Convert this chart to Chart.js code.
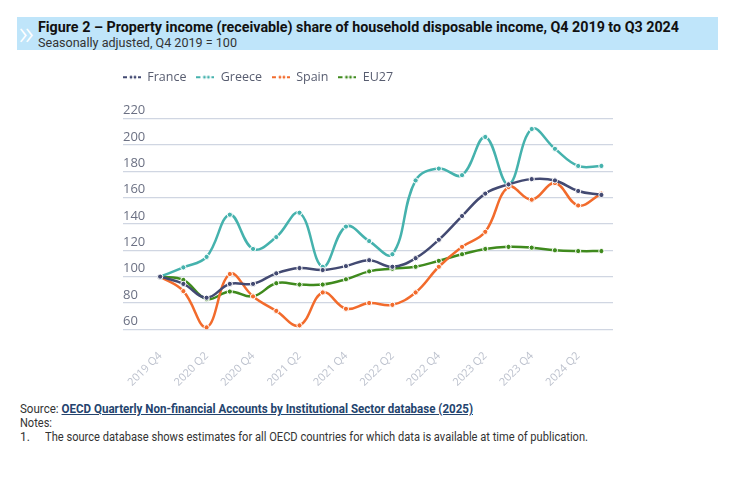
<!DOCTYPE html>
<html>
<head>
<meta charset="utf-8">
<script src="https://cdn.jsdelivr.net/npm/chart.js@4.4.1/dist/chart.umd.min.js"></script>
<style>
  body { margin: 0; background: #fff; width: 733px; height: 478px; position: relative; overflow: hidden; }
  .band { position: absolute; left: 17px; top: 17px; width: 701px; height: 33px; background: #bfe5fa; }
  .chev { position: absolute; left: 2px; top: -2px; color: #fff; font: 300 34px "Open Sans", sans-serif; line-height: 34px; }
  .fit { position: absolute; white-space: nowrap; transform-origin: 0 0; font-family: Roboto, sans-serif; }
  .title { left: 21px; top: 2px; font-size: 14px; font-weight: bold; color: #111; }
  .sub { left: 21px; top: 18px; font-size: 12.5px; color: #333; }
  .wrap { position: absolute; left: 0; top: 55px; width: 733px; height: 346px; }
  .foot { font-size: 12px; color: #333; }
  .foot a { color: #24446e; font-weight: bold; text-decoration: underline; }
</style>
</head>
<body>
<div class="band">
  <div class="chev">»</div>
  <div class="fit title" data-w="641">Figure 2 – Property income (receivable) share of household disposable income, Q4 2019 to Q3 2024</div>
  <div class="fit sub" data-w="199">Seasonally adjusted, Q4 2019 = 100</div>
</div>
<div class="wrap"><canvas id="chart"></canvas></div>
<div class="fit foot" style="left:20px;top:402px" data-w="453">Source: <a>OECD Quarterly Non-financial Accounts by Institutional Sector database (2025)</a></div>
<div class="fit foot" style="left:20px;top:416px" data-w="32">Notes:</div>
<div class="fit foot" style="left:20px;top:430px">1.</div>
<div class="fit foot" style="left:45px;top:430px" data-w="543">The source database shows estimates for all OECD countries for which data is available at time of publication.</div>
<script>
// quarters, 2019 Q4 .. 2024 Q3
const quarters = ["2019 Q4", "2020 Q1", "2020 Q2", "2020 Q3", "2020 Q4", "2021 Q1", "2021 Q2", "2021 Q3", "2021 Q4", "2022 Q1",
  "2022 Q2", "2022 Q3", "2022 Q4", "2023 Q1", "2023 Q2", "2023 Q3", "2023 Q4", "2024 Q1", "2024 Q2", "2024 Q3"];
const tickIndex = [0, 2, 4, 6, 8, 10, 12, 14, 16, 18];

const france = [100, 94.5, 84, 94.5, 94.5, 102.5, 106.5, 105, 108, 112.5, 107.5, 114, 128, 146, 163, 170, 174, 173, 165, 162];
const greece = [100, 107, 115, 147, 121, 130, 148.5, 107.5, 138, 127, 117, 173, 182, 177, 206, 170, 212, 197, 184, 184];
const spain = [100, 89, 61.5, 102, 85, 74, 63, 88, 75.6, 80, 78.6, 88, 107.5, 122.6, 134, 168, 158.4, 171, 154, 163];
const eu27 = [100, 97.5, 83, 88.7, 85, 95, 94, 94, 98, 104, 106, 107.5, 112, 117, 121, 122.6, 122, 120, 119.4, 119.4];

const yTicks = [60, 80, 100, 120, 140, 160, 180, 200, 220];

// squeeze text to the width it has in the picture (no narrow font installed)
document.querySelectorAll(".fit[data-w]").forEach(el => {
  const w = el.getBoundingClientRect().width;
  el.style.transform = "scaleX(" + (el.dataset.w / w) + ")";
});

function LegendMark(color){
  const c = document.createElement("canvas");
  c.width = 18; c.height = 6;
  const ctx = c.getContext("2d");
  ctx.fillStyle = color;
  ctx.fillRect(0, 2, 4, 2);
  ctx.beginPath(); ctx.arc(8, 3, 1.4, 0, Math.PI * 2); ctx.fill();
  ctx.beginPath(); ctx.arc(12, 3, 1.4, 0, Math.PI * 2); ctx.fill();
  ctx.fillRect(15, 2, 3, 2);
  return c;
}

function MakeSet(name, values, color){
  return {
    label: name,
    data: values.map((v, i) => ({x: i, y: v})),
    borderColor: color,
    backgroundColor: color,
    borderWidth: 2.5,
    tension: 0.4,
    pointRadius: 2.6,
    pointBorderWidth: 1,
    pointBorderColor: "#ffffff",
    pointBackgroundColor: color,
    pointStyle: "circle",
    legendStyle: LegendMark(color)
  };
}

const datasets = [
  MakeSet("France", france, "#434a72"),
  MakeSet("Greece", greece, "#45b2ad"),
  MakeSet("Spain", spain, "#f26b2c"),
  MakeSet("EU27", eu27, "#3f8a1d")
];

const legendGap = {
  id: "legendGap",
  beforeInit(chart){
    const fit = chart.legend.fit;
    chart.legend.fit = function(){
      fit.bind(chart.legend)();
      this.height += 25;
    };
  }
};

new Chart(document.getElementById("chart"), {
  type: "line",
  data: { datasets: datasets },
  plugins: [legendGap],
  options: {
    responsive: true,
    maintainAspectRatio: false,
    animation: false,
    layout: { padding: { left: 113, right: 120, top: 6, bottom: 0 } },
    plugins: {
      tooltip: { enabled: false },
      legend: {
        position: "top",
        align: "start",
        labels: {
          usePointStyle: true,
          pointStyleWidth: 18,
          padding: 10,
          color: "#585d70",
          font: { family: "'Open Sans'", size: 12.5 },
          generateLabels(chart){
            return chart.data.datasets.map((d, i) => ({
              text: d.label,
              pointStyle: d.legendStyle,
              fillStyle: d.borderColor,
              strokeStyle: d.borderColor,
              lineWidth: 0,
              fontColor: "#585d70",
              hidden: false,
              datasetIndex: i
            }));
          }
        }
      }
    },
    scales: {
      x: {
        type: "linear",
        min: -1.6,
        max: 19.5,
        afterBuildTicks(scale){ scale.ticks = tickIndex.map(v => ({value: v})); },
        grid: { display: false },
        border: { display: false },
        ticks: {
          autoSkip: false,
          minRotation: 45,
          maxRotation: 45,
          padding: 12,
          color: "#bcc1cd",
          font: { family: "'Open Sans'", size: 11 },
          callback: v => quarters[v]
        }
      },
      y: {
        min: 60,
        max: 220,
        afterBuildTicks(scale){ scale.ticks = yTicks.map(v => ({value: v})); },
        border: { display: false },
        grid: { color: "#d0d6e2", lineWidth: 1.3, tickLength: 10, tickColor: "rgba(0,0,0,0)" },
        ticks: {
          mirror: true,
          padding: 0,
          labelOffset: -8,
          color: "#6b7083",
          font: { family: "'Open Sans'", size: 13 }
        }
      }
    }
  }
});
</script>
</body>
</html>
